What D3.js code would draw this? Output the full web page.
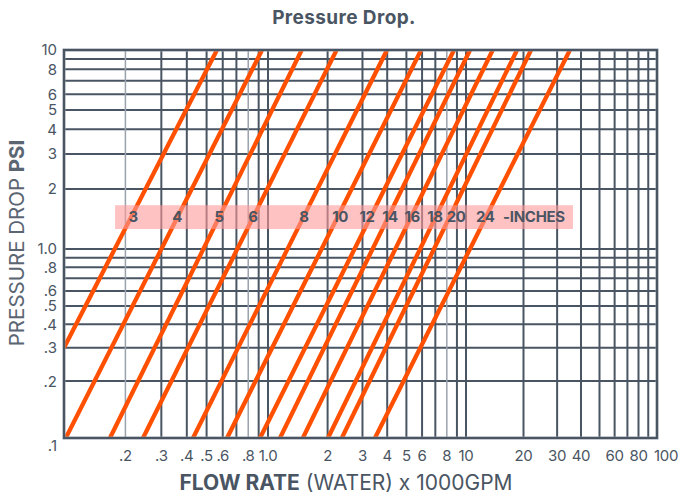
<!DOCTYPE html>
<html><head><meta charset="utf-8">
<script src="https://cdn.jsdelivr.net/npm/d3@7/dist/d3.min.js"></script>
<style>html,body{margin:0;padding:0;background:#fff;}svg{display:block;font-family:Inter,"Open Sans","Liberation Sans",sans-serif;}</style>
</head><body>
<svg id="c" width="681" height="495"></svg>
<script>
// ---- data ----
const pipeSizes = ["3","4","5","6","8","10","12","14","16","18","20","24"];
// each line: start point (flow, psi) and end point (flow at 10 psi)
const startFlow = [0.1, 0.102, 0.168, 0.244, 0.429, 0.630, 0.914, 1.15, 1.50, 2.01, 2.36, 3.47];
const startPsi  = [0.3, 0.1, 0.1, 0.1, 0.1, 0.1, 0.1, 0.1, 0.1, 0.1, 0.1, 0.1];
const endFlow   = [0.562, 0.935, 1.48, 2.22, 3.99, 5.93, 8.7, 10.5, 13.8, 18.5, 21.9, 35.0];
const endPsi    = [10, 10, 10, 10, 10, 10, 10, 10, 10, 10, 10, 10];
const labelFlow = [0.218, 0.358, 0.575, 0.844, 1.52, 2.31, 3.16, 4.13, 5.34, 6.97, 8.9, 12.6];
const unitLabel = "-INCHES", unitFlow = 22.7;
const bandFlow = [0.178, 36.3], bandPsi = [1.26, 1.66], labelPsi = 1.45;
const xTickVals = [0.2,0.3,0.4,0.5,0.6,0.8,1,2,3,4,5,6,8,10,20,30,40,60,80,100];
const xTickText = [".2",".3",".4",".5",".6",".8","1.0","2","3","4","5","6","8","10","20","30","40","60","80","100"];
const yTickVals = [0.1,0.2,0.3,0.4,0.5,0.6,0.8,1,2,3,4,5,6,8,10];
const yTickText = [".1",".2",".3",".4",".5",".6",".8","1.0","2","3","4","5","6","8","10"];
const gridX = [0.1,0.2,0.3,0.4,0.5,0.6,0.7,0.8,0.9,1,2,3,4,5,6,7,8,9,10,20,30,40,50,60,70,80,90,100];
const gridY = [0.1,0.2,0.3,0.4,0.5,0.6,0.7,0.8,0.9,1,2,3,4,5,6,7,8,9,10];
const lightX = [0.2,0.8,8];

// ---- drawing ----
const svg = d3.select("#c");
const ink = "#4a5563";
const x = d3.scaleLog().domain([0.1,1,10,100]).range([64,268,466,657]);
const y = d3.scaleLog().domain([0.1,1,10]).range([438,249,50]);

svg.append("defs").append("clipPath").attr("id","clip")
  .append("rect").attr("x",x(0.1)).attr("y",y(10)).attr("width",x(100)-x(0.1)).attr("height",y(0.1)-y(10));

const g = svg.append("g");
g.selectAll(".gy").data(gridY).join("line")
  .attr("x1",x(0.1)).attr("x2",x(100)).attr("y1",d=>y(d)).attr("y2",d=>y(d))
  .attr("stroke",ink).attr("stroke-width",2);
g.selectAll(".gx").data(gridX).join("line")
  .attr("y1",y(0.1)).attr("y2",y(10)).attr("x1",d=>x(d)).attr("x2",d=>x(d))
  .attr("stroke",d=>lightX.includes(d)?"#9aa2ac":ink)
  .attr("stroke-width",d=>lightX.includes(d)?1.5:2);

// pressure lines
const line = d3.line().x(d=>x(d[0])).y(d=>y(d[1]));
const lines = pipeSizes.map((s,i)=>[[startFlow[i],startPsi[i]],[endFlow[i],endPsi[i]]]);
svg.append("g").attr("clip-path","url(#clip)")
  .selectAll("path").data(lines).join("path")
  .attr("d",line).attr("fill","none").attr("stroke","#ff4f00").attr("stroke-width",4.3);

// frame
svg.append("rect").attr("x",x(0.1)).attr("y",y(10)).attr("width",x(100)-x(0.1)).attr("height",y(0.1)-y(10))
  .attr("fill","none").attr("stroke","#8d96a0").attr("stroke-width",3);
svg.append("rect").attr("x",x(0.1)).attr("y",y(10)).attr("width",x(100)-x(0.1)).attr("height",y(0.1)-y(10))
  .attr("fill","none").attr("stroke",ink).attr("stroke-width",2);

// band
svg.append("rect").attr("x",x(bandFlow[0])).attr("y",y(bandPsi[1]))
  .attr("width",x(bandFlow[1])-x(bandFlow[0])).attr("height",y(bandPsi[0])-y(bandPsi[1]))
  .attr("fill","#ff9a9a").attr("opacity",0.6);
svg.selectAll(".pl").data(pipeSizes).join("text")
  .attr("x",(d,i)=>x(labelFlow[i])).attr("y",y(labelPsi)).attr("dy","0.36em")
  .attr("text-anchor","middle").attr("font-weight","bold").attr("font-size",15).attr("fill",ink)
  .attr("letter-spacing",-0.5)
  .text(d=>d);
svg.append("text").attr("x",x(unitFlow)).attr("y",y(labelPsi)).attr("dy","0.36em")
  .attr("text-anchor","middle").attr("font-weight","bold").attr("font-size",15).attr("fill",ink)
  .attr("letter-spacing",-0.3)
  .text(unitLabel);

// tick labels
svg.selectAll(".xt").data(xTickVals).join("text")
  .attr("x",d=>x(d)+(d===100?9:0)).attr("y",y(0.1)+18).attr("dy","0.36em").attr("text-anchor","middle")
  .attr("font-size",15).attr("fill",ink).attr("letter-spacing",-0.3).text((d,i)=>xTickText[i]);
svg.selectAll(".yt").data(yTickVals).join("text")
  .attr("x",x(0.1)-7).attr("y",d=>y(d)+(d===0.1?8:0)).attr("dy","0.36em").attr("text-anchor","end")
  .attr("font-size",15).attr("fill",ink).text((d,i)=>yTickText[i]);

// titles
svg.append("text").attr("x",344).attr("y",17).attr("dy","0.36em").attr("text-anchor","middle")
  .attr("font-weight","bold").attr("font-size",19).attr("letter-spacing",0.4).attr("fill",ink).text("Pressure Drop.");
const xt = svg.append("text").attr("x",346).attr("y",482).attr("dy","0.36em").attr("text-anchor","middle")
  .attr("font-size",21).attr("fill",ink);
xt.append("tspan").attr("font-weight","bold").text("FLOW RATE");
xt.append("tspan").text(" (WATER) x 1000GPM");
const yt = svg.append("text").attr("transform","translate(17,243) rotate(-90)").attr("dy","0.36em")
  .attr("text-anchor","middle").attr("font-size",20.5).attr("fill","#5b6673");
yt.append("tspan").text("PRESSURE DROP ");
yt.append("tspan").attr("font-weight","bold").text("PSI");
</script>
</body></html>
